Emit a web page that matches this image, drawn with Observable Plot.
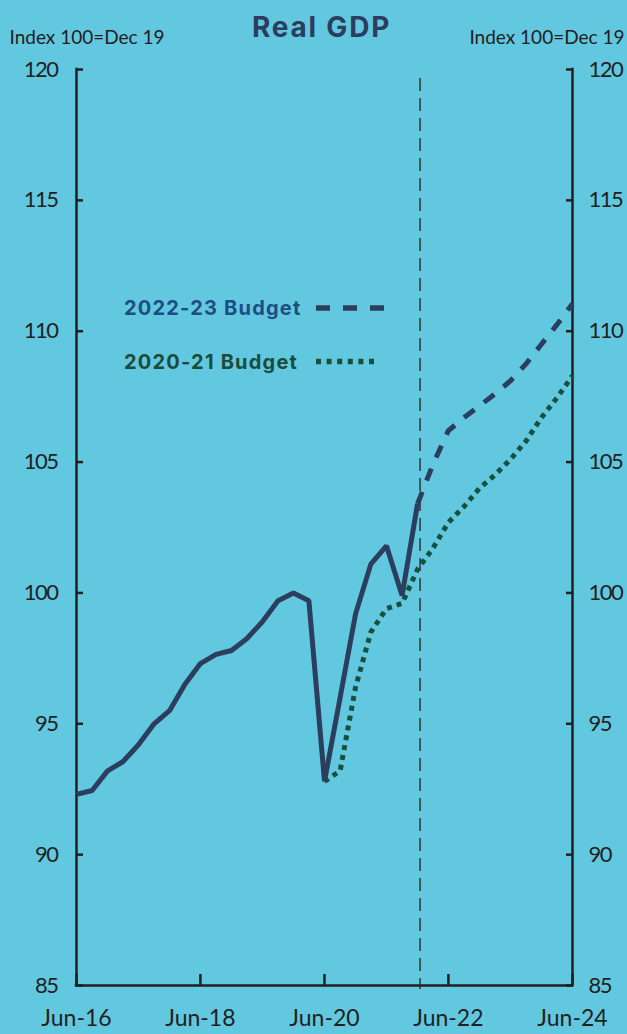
<!DOCTYPE html>
<html><head><meta charset="utf-8">
<script src="https://cdn.jsdelivr.net/npm/d3@7"></script>
<script src="https://cdn.jsdelivr.net/npm/@observablehq/plot@0.6"></script>
<style>
html,body{margin:0;padding:0;background:#62C8E0;}
#wrap{position:relative;width:627px;height:1034px;overflow:hidden;}
#legend{position:absolute;left:0;top:0;}
svg g[aria-label="y-axis tick label"] text{letter-spacing:-1.5px;}
</style></head><body><div id="wrap"></div>
<script>
// ---- data ----
const actualQuarters = ["Jun-16","Sep-16","Dec-16","Mar-17","Jun-17","Sep-17","Dec-17","Mar-18","Jun-18","Sep-18","Dec-18","Mar-19","Jun-19","Sep-19","Dec-19","Mar-20","Jun-20","Sep-20","Dec-20","Mar-21","Jun-21","Sep-21","Dec-21"];
const actualValues = [92.3,92.45,93.2,93.55,94.2,95.0,95.5,96.5,97.3,97.65,97.8,98.25,98.9,99.7,100.0,99.7,92.8,96.0,99.2,101.1,101.8,99.9,103.4];

const budget2223Quarters = ["Dec-21","Mar-22","Jun-22","Sep-22","Dec-22","Mar-23","Jun-23","Sep-23","Dec-23","Mar-24","Jun-24"];
const budget2223Values = [103.4,104.9,106.2,106.7,107.15,107.6,108.1,108.75,109.5,110.25,111.05];

const budget2021Quarters = ["Jun-20","Sep-20","Dec-20","Mar-21","Jun-21","Sep-21","Dec-21","Mar-22","Jun-22","Sep-22","Dec-22","Mar-23","Jun-23","Sep-23","Dec-23","Mar-24","Jun-24"];
const budget2021Values = [92.8,93.2,96.4,98.5,99.4,99.6,100.9,101.7,102.7,103.3,104.0,104.5,105.1,105.8,106.7,107.45,108.3];

const xTickLabels = ["Jun-16","Jun-18","Jun-20","Jun-22","Jun-24"];
const yTicks = [85,90,95,100,105,110,115,120];
const forecastDivider = "2021-12-16";
const seriesNames = ["2022-23 Budget","2020-21 Budget"];
const titleText = "Real GDP";
const unitText = "Index 100=Dec 19";

// ---- build ----
const parseQ = d3.utcParse("%b-%y");
const toRows = (qs, vs) => qs.map((q, i) => ({date: parseQ(q), value: vs[i]}));
const actual = toRows(actualQuarters, actualValues);
const b2223 = toRows(budget2223Quarters, budget2223Values);
const b2021 = toRows(budget2021Quarters, budget2021Values);
const xTicks = xTickLabels.map(parseQ);
const divider = d3.utcParse("%Y-%m-%d")(forecastDivider);

const ink = "#231F20";
const navy = "#2C3E5E";
const green = "#17503E";

const plot = Plot.plot({
  width: 627, height: 1034,
  marginLeft: 76, marginRight: 55, marginTop: 69, marginBottom: 49,
  style: {background: "transparent", fontFamily: "Lato, sans-serif", color: ink, overflow: "visible"},
  x: {type: "utc", domain: [xTicks[0], xTicks[xTicks.length - 1]]},
  y: {domain: [yTicks[0], yTicks[yTicks.length - 1]]},
  marks: [
    Plot.ruleX([divider], {stroke: ink, strokeWidth: 1.3, strokeDasharray: "13,7", insetTop: 9, insetBottom: -4}),
    // axis frame
    Plot.ruleX([xTicks[0], xTicks[xTicks.length - 1]], {stroke: ink, strokeWidth: 2.5, strokeLinecap: "square"}),
    Plot.ruleY([yTicks[0]], {stroke: ink, strokeWidth: 2.5, strokeLinecap: "square"}),
    // ticks (inward)
    Plot.axisY({ticks: yTicks, anchor: "left", tickSize: -7, strokeWidth: 2.5, fill: "none", label: null}),
    Plot.axisY({ticks: yTicks, anchor: "right", tickSize: -7, strokeWidth: 2.5, fill: "none", label: null}),
    Plot.axisX({ticks: xTicks, anchor: "bottom", tickSize: -11, strokeWidth: 2.5, fill: "none", label: null}),
    // tick labels
    Plot.axisY({ticks: yTicks, anchor: "left", tickSize: 0, tickPadding: 19, fontSize: 22, label: null, fill: ink}),
    Plot.axisY({ticks: yTicks, anchor: "right", tickSize: 0, tickPadding: 16, fontSize: 22, label: null, fill: ink}),
    Plot.axisX({ticks: xTicks, anchor: "bottom", tickSize: 0, tickPadding: 24, fontSize: 23, label: null, fill: ink,
      tickFormat: d3.utcFormat("%b-%y")}),
    // series
    Plot.line(b2021, {x: "date", y: "value", stroke: green, strokeWidth: 5, strokeDasharray: "5,5", strokeLinecap: "butt", strokeLinejoin: "miter"}),
    Plot.line(actual, {x: "date", y: "value", stroke: navy, strokeWidth: 5, strokeLinejoin: "miter", strokeLinecap: "butt"}),
    Plot.line(b2223, {x: "date", y: "value", stroke: navy, strokeWidth: 5, strokeDasharray: "13,12", strokeLinecap: "butt", strokeLinejoin: "miter"}),
    // title and units
    Plot.text([titleText], {frameAnchor: "top", dx: -3, dy: -33, lineAnchor: "bottom", fontSize: 28, fontWeight: 700,
      fontFamily: "Inter, sans-serif", fill: navy}),
    Plot.text([unitText], {frameAnchor: "top-left", textAnchor: "start", dx: -67, dy: -26, lineAnchor: "bottom", fontSize: 19, fill: ink}),
    Plot.text([unitText], {frameAnchor: "top-right", textAnchor: "end", dx: 52, dy: -26, lineAnchor: "bottom", fontSize: 19, fill: ink})
  ]
});
d3.select(plot).selectAll("text").filter(function () { return this.textContent === titleText; })
  .attr("letter-spacing", "1.8");
const wrap = document.getElementById("wrap");
wrap.appendChild(plot);

// legend overlay
const ns = "http://www.w3.org/2000/svg";
const lg = document.createElementNS(ns, "svg");
lg.setAttribute("id", "legend");
lg.setAttribute("width", 627); lg.setAttribute("height", 1034);
const items = [
  {name: seriesNames[0], textFill: "#1E4C84", stroke: navy, dash: "14,13", ty: 315, ly: 308, x2: 384},
  {name: seriesNames[1], textFill: "#1C4B3C", stroke: green, dash: "5,5.6", ty: 369, ly: 361.5, x2: 375}
];
for (const it of items) {
  const t = document.createElementNS(ns, "text");
  t.setAttribute("x", 124); t.setAttribute("y", it.ty);
  t.setAttribute("fill", it.textFill);
  t.setAttribute("font-family", "Inter, sans-serif");
  t.setAttribute("font-weight", "700");
  t.setAttribute("font-size", "20");
  t.setAttribute("letter-spacing", "1.2");
  t.textContent = it.name;
  lg.appendChild(t);
  const l = document.createElementNS(ns, "line");
  l.setAttribute("x1", 316); l.setAttribute("x2", it.x2);
  l.setAttribute("y1", it.ly); l.setAttribute("y2", it.ly);
  l.setAttribute("stroke", it.stroke); l.setAttribute("stroke-width", 5.5);
  l.setAttribute("stroke-dasharray", it.dash);
  lg.appendChild(l);
}
wrap.appendChild(lg);
</script></body></html>
